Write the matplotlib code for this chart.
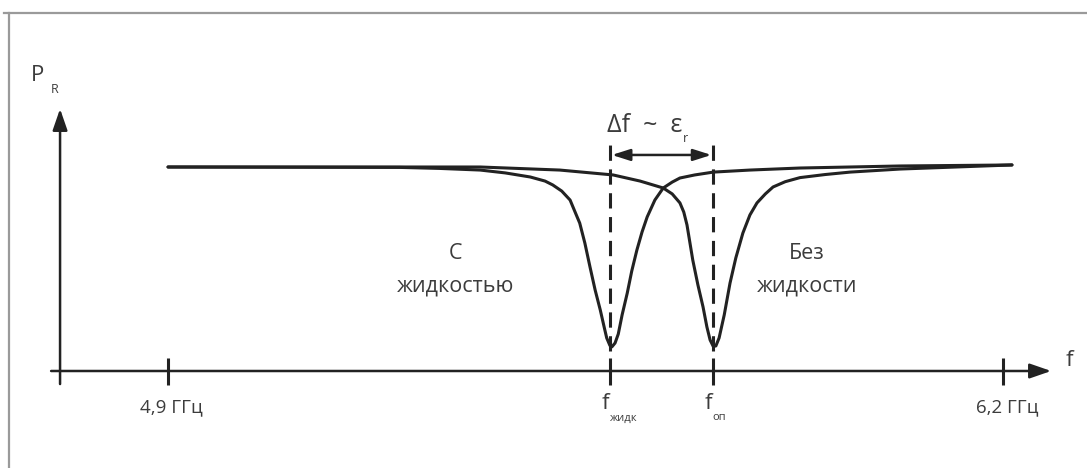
import matplotlib
matplotlib.use("Agg")
import matplotlib.pyplot as plt
from matplotlib.lines import Line2D

plt.rcParams['font.family'] = ['Open Sans', 'DejaVu Sans']

# with liquid: resonance dip (GHz, relative reflected power)
f_liquid = [4.900, 5.261, 5.323, 5.386, 5.425, 5.464, 5.487, 5.499, 5.513, 5.526,
            5.535, 5.541, 5.549, 5.557, 5.565, 5.573, 5.579, 5.583, 5.588, 5.591,
            5.596, 5.601, 5.607, 5.615, 5.622, 5.630, 5.638, 5.646, 5.658, 5.671,
            5.685, 5.697, 5.720, 5.749, 5.806, 5.884, 6.040, 6.214]
p_liquid = [1.000, 0.998, 0.993, 0.985, 0.971, 0.951, 0.931, 0.912, 0.882, 0.838,
            0.770, 0.725, 0.627, 0.510, 0.397, 0.299, 0.216, 0.162, 0.125, 0.118,
            0.137, 0.181, 0.275, 0.382, 0.490, 0.593, 0.681, 0.755, 0.838, 0.897,
            0.926, 0.946, 0.961, 0.975, 0.985, 0.995, 1.005, 1.010]

# without liquid
f_empty = [4.900, 5.386, 5.510, 5.593, 5.635, 5.671, 5.685, 5.697, 5.703, 5.708,
           5.717, 5.725, 5.733, 5.739, 5.744, 5.749, 5.753, 5.758, 5.766, 5.775,
           5.784, 5.795, 5.806, 5.817, 5.830, 5.842, 5.861, 5.884, 5.923, 5.962,
           6.040, 6.214]
p_empty = [1.000, 1.000, 0.985, 0.961, 0.931, 0.897, 0.868, 0.824, 0.779, 0.716,
           0.544, 0.422, 0.314, 0.216, 0.152, 0.120, 0.123, 0.162, 0.275, 0.431,
           0.554, 0.676, 0.765, 0.824, 0.868, 0.902, 0.928, 0.948, 0.963, 0.975,
           0.990, 1.010]

f_res = [5.588, 5.749]          # f_жидк, f_оп
f_ends = [4.9, 6.2]
end_labels = ['4,9 ГГц', '6,2 ГГц']

ink = '#222222'
txt = '#3c3c3c'

fig = plt.figure(figsize=(10.87, 4.68), dpi=100)
ax = fig.add_axes([0, 0, 1, 1])
ax.set_xlim(4.6384, 6.3308)
ax.set_ylim(-0.4755, 1.8186)
ax.axis('off')

# frame
fig.add_artist(Line2D([0.004, 1.0], [0.972, 0.972], color='#9a9a9a', lw=1.6))
fig.add_artist(Line2D([0.0083, 0.0083], [0.0, 0.972], color='#9a9a9a', lw=1.6))

# axes arrows
ax.annotate('', xy=(6.275, 0), xytext=(4.718, 0),
            arrowprops=dict(arrowstyle='-|>,head_length=1.3,head_width=0.45',
                            color=ink, lw=1.8, shrinkA=0, shrinkB=0))
ax.annotate('', xy=(4.7319, 1.285), xytext=(4.7319, -0.064),
            arrowprops=dict(arrowstyle='-|>,head_length=1.3,head_width=0.45',
                            color=ink, lw=1.8, shrinkA=0, shrinkB=0))
ax.text(6.298, 0.05, 'f', fontsize=16, color=txt, ha='left', va='center')
ax.text(4.697, 1.45, 'P', fontsize=16, color=txt, ha='center', va='center')
ax.text(4.724, 1.38, 'R', fontsize=9, color=txt, ha='center', va='center')

# ticks
for f in f_ends + f_res:
    ax.plot([f, f], [0.064, -0.069], color=ink, lw=2.2, solid_capstyle='butt')
for f, lab in zip(f_ends, end_labels):
    ax.text(f + 0.006, -0.18, lab, fontsize=13.5, color=txt, ha='center', va='center')

ax.text(f_res[0] - 0.002, -0.16, 'f', fontsize=16, color=txt, ha='right', va='center')
ax.text(f_res[0] - 0.001, -0.23, 'жидк', fontsize=8, color=txt, ha='left', va='center')
ax.text(f_res[1] - 0.002, -0.16, 'f', fontsize=16, color=txt, ha='right', va='center')
ax.text(f_res[1] - 0.001, -0.23, 'оп', fontsize=8, color=txt, ha='left', va='center')

# curves
ax.plot(f_liquid, p_liquid, color=ink, lw=2.2, solid_capstyle='round',
        solid_joinstyle='round')
ax.plot(f_empty, p_empty, color=ink, lw=2.2, solid_capstyle='round',
        solid_joinstyle='round')

# dashed markers
for f in f_res:
    ax.plot([f, f], [0.10, 1.13], color=ink, lw=2.2, dashes=(5, 2.8))

# delta arrow
ax.annotate('', xy=(f_res[1] - 0.003, 1.059), xytext=(f_res[0] + 0.003, 1.059),
            arrowprops=dict(arrowstyle='<|-|>,head_length=1.1,head_width=0.35',
                            color=ink, lw=1.8, shrinkA=0, shrinkB=0))
ax.text(5.701, 1.205, 'Δf  ~  ε', fontsize=18, color=txt, ha='right', va='center')
ax.text(5.702, 1.14, 'r', fontsize=9, color=txt, ha='left', va='center')

ax.text(5.348, 0.495, 'С\nжидкостью', fontsize=15.5, color=txt, ha='center',
        va='center', linespacing=1.7)
ax.text(5.895, 0.495, 'Без\nжидкости', fontsize=15.5, color=txt, ha='center',
        va='center', linespacing=1.7)

fig.savefig('out.png', dpi=100)
